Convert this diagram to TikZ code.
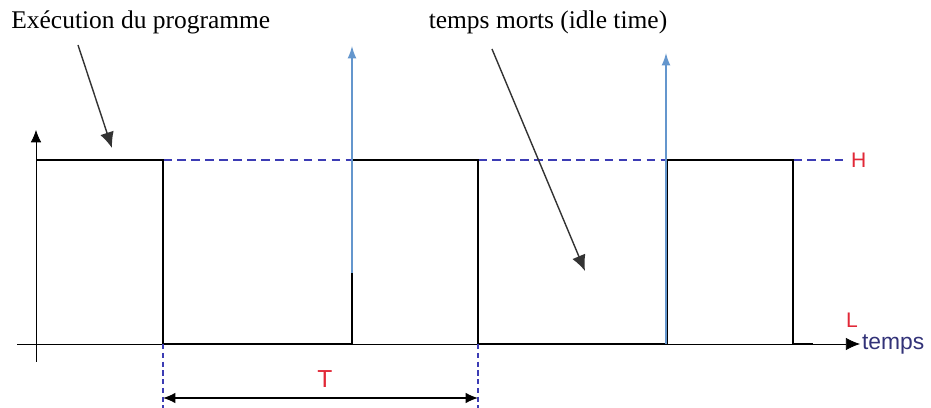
\documentclass[tikz,border=0pt]{standalone}
\usepackage{fontspec}
\setmainfont{Liberation Serif}
\setsansfont{Liberation Sans}
\usetikzlibrary{arrows.meta}
\definecolor{levelblue}{RGB}{60,60,180}
\definecolor{tickblue}{RGB}{100,150,205}
\definecolor{labelred}{RGB}{225,40,55}
\definecolor{timenavy}{RGB}{50,50,120}
\begin{document}
\begin{tikzpicture}[x=0.02cm,y=-0.02cm]
  \useasboundingbox (0,0) rectangle (931,408);
  \tikzset{signal/.style={line width=1.4pt,black},
    level/.style={dash pattern=on 5pt off 3pt,levelblue,thick},
    clk/.style={tickblue,thick,-{Latex[length=7pt,width=5pt]}},
    callout/.style={thick,black!80,-{Latex[length=9pt,width=8pt]}},
    period/.style={densely dashed,levelblue,thick}}
  % axes
  \coordinate (yb) at (36,362); \coordinate (yt) at (36,130);
  \coordinate (xl) at (17,344); \coordinate (xr) at (860,344);
  \draw[-{Latex[length=7pt,width=6pt]}] (yb) -- (yt); % vertical axis
  \draw[-{Latex[length=8pt,width=7pt]}] (xl) -- (xr); % time axis
  \node[font=\sffamily\fontsize{13}{15}\selectfont,timenavy,anchor=west,inner sep=1pt] (tps) at (xr) {temps};
  % dashed H level
  \draw[level] (163,160) -- (352,160);
  \draw[level] (478,160) -- (667,160);
  \draw[level] (793,160) -- (843,160);
  \node[font=\sffamily\fontsize{12}{14}\selectfont,labelred,anchor=west,inner sep=1pt] (hlab) at (849,160) {H};
  \node[font=\sffamily\fontsize{12}{14}\selectfont,labelred,inner sep=1pt] (llab) at (852,320) {L};
  % square signal
  \draw[signal] (36,160) -- (163,160) -- (163,344) -- (352,344) -- (352,160) -- (478,160)
    -- (478,344) -- (667,344) -- (667,160) -- (793,160) -- (793,344) -- (813,344);
  % clock ticks
  \coordinate (c1) at (352,273); \coordinate (c1t) at (352,46);
  \coordinate (c2) at (666,344); \coordinate (c2t) at (666,53);
  \draw[clk] (c1) -- (c1t);
  \draw[clk] (c2) -- (c2t);
  % callouts
  \node[font=\fontsize{14.5}{16}\selectfont,anchor=west,inner sep=0pt] (exec) at (11,22) {Exécution du programme};
  \node[font=\fontsize{14.5}{16}\selectfont,inner sep=0pt] (idle) at (548,22) {temps morts (idle time)};
  \coordinate (e1) at (78,45); \coordinate (e2) at (112,148);
  \coordinate (i1) at (492,49); \coordinate (i2) at (585,271);
  \draw[callout] (e1) -- (e2);
  \draw[callout] (i1) -- (i2);
  % period T
  \coordinate (p1) at (163,344); \coordinate (p1b) at (163,408);
  \coordinate (p2) at (478,344); \coordinate (p2b) at (478,408);
  \draw[period] (p1) -- (p1b);
  \draw[period] (p2) -- (p2b);
  \draw[thick,{Latex[length=7pt,width=6pt]}-{Latex[length=7pt,width=6pt]}] (163,398) -- (478,398);
  \node[font=\sffamily\fontsize{14}{16}\selectfont,labelred,inner sep=0pt] (tlab) at (325,379) {T};
\end{tikzpicture}
\end{document}
